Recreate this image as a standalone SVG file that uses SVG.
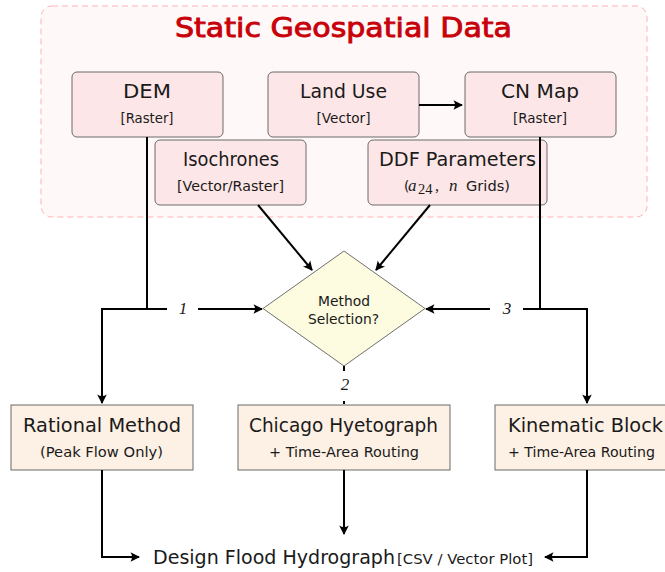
<svg xmlns="http://www.w3.org/2000/svg" width="665" height="572" viewBox="0 0 665 572">
<style>
.sans{font-family:"DejaVu Sans","Liberation Sans",sans-serif;fill:#1a1a1a}
.main{font-size:19px}
.sub{font-size:13.5px}
.title{font-family:"DejaVu Sans","Liberation Sans",sans-serif;font-size:27px;fill:#c8000a;stroke:#c8000a;stroke-width:0.9}
.math{font-family:"Liberation Serif",serif;font-style:italic;fill:#1a1a1a}
.topnode{fill:#fde6e7;stroke:#6a6a6a;stroke-width:1}
.botnode{fill:#fdf0e4;stroke:#6a6a6a;stroke-width:1}
.diam{fill:#fdfbe0;stroke:#707070;stroke-width:1}
.con{fill:none;stroke:#000;stroke-width:2}
.gap{fill:#fff;stroke:none}
</style>
<defs>
<marker id="arr" viewBox="-10 -6 12 12" refX="0" refY="0" markerWidth="12" markerHeight="12" markerUnits="userSpaceOnUse" orient="auto">
<path d="M1,0 L-8.5,-4.8 Q-5.5,0 -8.5,4.8 Z" fill="#000"/>
</marker>
</defs>
<rect width="665" height="572" fill="#fff"/>
<g id="container">
<rect x="41" y="6" width="606" height="211" rx="11" fill="#fff8f8" stroke="#ffb3b3" stroke-width="1" stroke-dasharray="6,4"/>
<text class="title" x="343.5" y="37" text-anchor="middle" textLength="337" lengthAdjust="spacingAndGlyphs">Static Geospatial Data</text>
</g>
<g id="dem">
<rect class="topnode" x="72" y="72" width="151" height="65" rx="5"/>
<text class="sans main" x="147" y="98" text-anchor="middle" textLength="48" lengthAdjust="spacingAndGlyphs">DEM</text>
<text class="sans sub" x="147" y="123" text-anchor="middle" textLength="53" lengthAdjust="spacingAndGlyphs">[Raster]</text>
</g>
<g id="landuse">
<rect class="topnode" x="268" y="72" width="151" height="65" rx="5"/>
<text class="sans main" x="343.5" y="98" text-anchor="middle" textLength="87" lengthAdjust="spacingAndGlyphs">Land Use</text>
<text class="sans sub" x="343.5" y="123" text-anchor="middle" textLength="54" lengthAdjust="spacingAndGlyphs">[Vector]</text>
</g>
<g id="cnmap">
<rect class="topnode" x="465" y="72" width="151" height="65" rx="5"/>
<text class="sans main" x="540" y="98" text-anchor="middle" textLength="78" lengthAdjust="spacingAndGlyphs">CN Map</text>
<text class="sans sub" x="540" y="123" text-anchor="middle" textLength="54" lengthAdjust="spacingAndGlyphs">[Raster]</text>
</g>
<g id="isochrones">
<rect class="topnode" x="155" y="140" width="151" height="65" rx="5"/>
<text class="sans main" x="231" y="166" text-anchor="middle" textLength="96" lengthAdjust="spacingAndGlyphs">Isochrones</text>
<text class="sans sub" x="230.5" y="191" text-anchor="middle" textLength="107" lengthAdjust="spacingAndGlyphs">[Vector/Raster]</text>
</g>
<g id="ddf">
<rect class="topnode" x="368" y="140" width="179" height="65" rx="5"/>
<text class="sans main" x="457.5" y="166" text-anchor="middle" textLength="157" lengthAdjust="spacingAndGlyphs">DDF Parameters</text>
<text y="191"><tspan class="sans sub" x="404">(</tspan><tspan class="math" x="408" font-size="17">a</tspan><tspan x="418" y="194" font-family="Liberation Serif,serif" font-size="14.5" fill="#1a1a1a">24</tspan><tspan x="435" y="191" font-family="Liberation Serif,serif" font-size="16" fill="#1a1a1a">,</tspan><tspan class="math" x="449" font-size="17">n</tspan><tspan class="sans sub" x="466" textLength="44" lengthAdjust="spacingAndGlyphs">Grids)</tspan></text>
</g>
<g id="method">
<polygon class="diam" points="344,251 425,308.5 344,366 263,308.5"/>
<text class="sans" font-size="13.5" x="344" y="306" text-anchor="middle" textLength="52" lengthAdjust="spacingAndGlyphs">Method</text>
<text class="sans" font-size="13.5" x="343.5" y="324" text-anchor="middle" textLength="71" lengthAdjust="spacingAndGlyphs">Selection?</text>
</g>
<g id="rational">
<rect class="botnode" x="11" y="405" width="182" height="65"/>
<text class="sans main" x="102" y="432" text-anchor="middle" textLength="158" lengthAdjust="spacingAndGlyphs">Rational Method</text>
<text class="sans sub" x="101.5" y="457" text-anchor="middle" textLength="123" lengthAdjust="spacingAndGlyphs">(Peak Flow Only)</text>
</g>
<g id="chicago">
<rect class="botnode" x="238" y="405" width="212" height="65"/>
<text class="sans main" x="343.5" y="432" text-anchor="middle" textLength="189" lengthAdjust="spacingAndGlyphs">Chicago Hyetograph</text>
<text class="sans sub" x="344" y="457" text-anchor="middle" textLength="150" lengthAdjust="spacingAndGlyphs">+ Time-Area Routing</text>
</g>
<g id="kinematic">
<rect class="botnode" x="495" y="405" width="182" height="65"/>
<text class="sans main" x="585.5" y="432" text-anchor="middle" textLength="155" lengthAdjust="spacingAndGlyphs">Kinematic Block</text>
<text class="sans sub" x="581.5" y="457" text-anchor="middle" textLength="147" lengthAdjust="spacingAndGlyphs">+ Time-Area Routing</text>
</g>
<g id="output">
<text class="sans" font-size="19" x="153" y="564" textLength="242" lengthAdjust="spacingAndGlyphs">Design Flood Hydrograph</text>
<text class="sans" font-size="13.5" x="397" y="564" textLength="136" lengthAdjust="spacingAndGlyphs">[CSV / Vector Plot]</text>
</g>
<g id="connectors">
<path class="con" d="M419,105 H462" marker-end="url(#arr)"/>
<path class="con" d="M147,137 V309 H262" marker-end="url(#arr)"/>
<path class="con" d="M170,309 H102 V403" marker-end="url(#arr)"/>
<path class="con" d="M258,205 L312,270" marker-end="url(#arr)"/>
<path class="con" d="M430,205 L376,270" marker-end="url(#arr)"/>
<path class="con" d="M540,137 V309 H426" marker-end="url(#arr)"/>
<path class="con" d="M540,309 H587 V403" marker-end="url(#arr)"/>
<path class="con" d="M344,366 V404"/>
<path class="con" d="M102,470 V557 H139" marker-end="url(#arr)"/>
<path class="con" d="M344,470 V534" marker-end="url(#arr)"/>
<path class="con" d="M587,470 V557 H545" marker-end="url(#arr)"/>
<rect class="gap" x="167" y="300" width="31" height="18"/>
<rect class="gap" x="490" y="300" width="33" height="18"/>
<rect class="gap" x="334" y="371" width="22" height="30"/>
<text class="math" font-size="17" x="183" y="314" text-anchor="middle">1</text>
<text class="math" font-size="17" x="507" y="314" text-anchor="middle">3</text>
<text class="math" font-size="17" x="345" y="390" text-anchor="middle">2</text>
</g>
</svg>
